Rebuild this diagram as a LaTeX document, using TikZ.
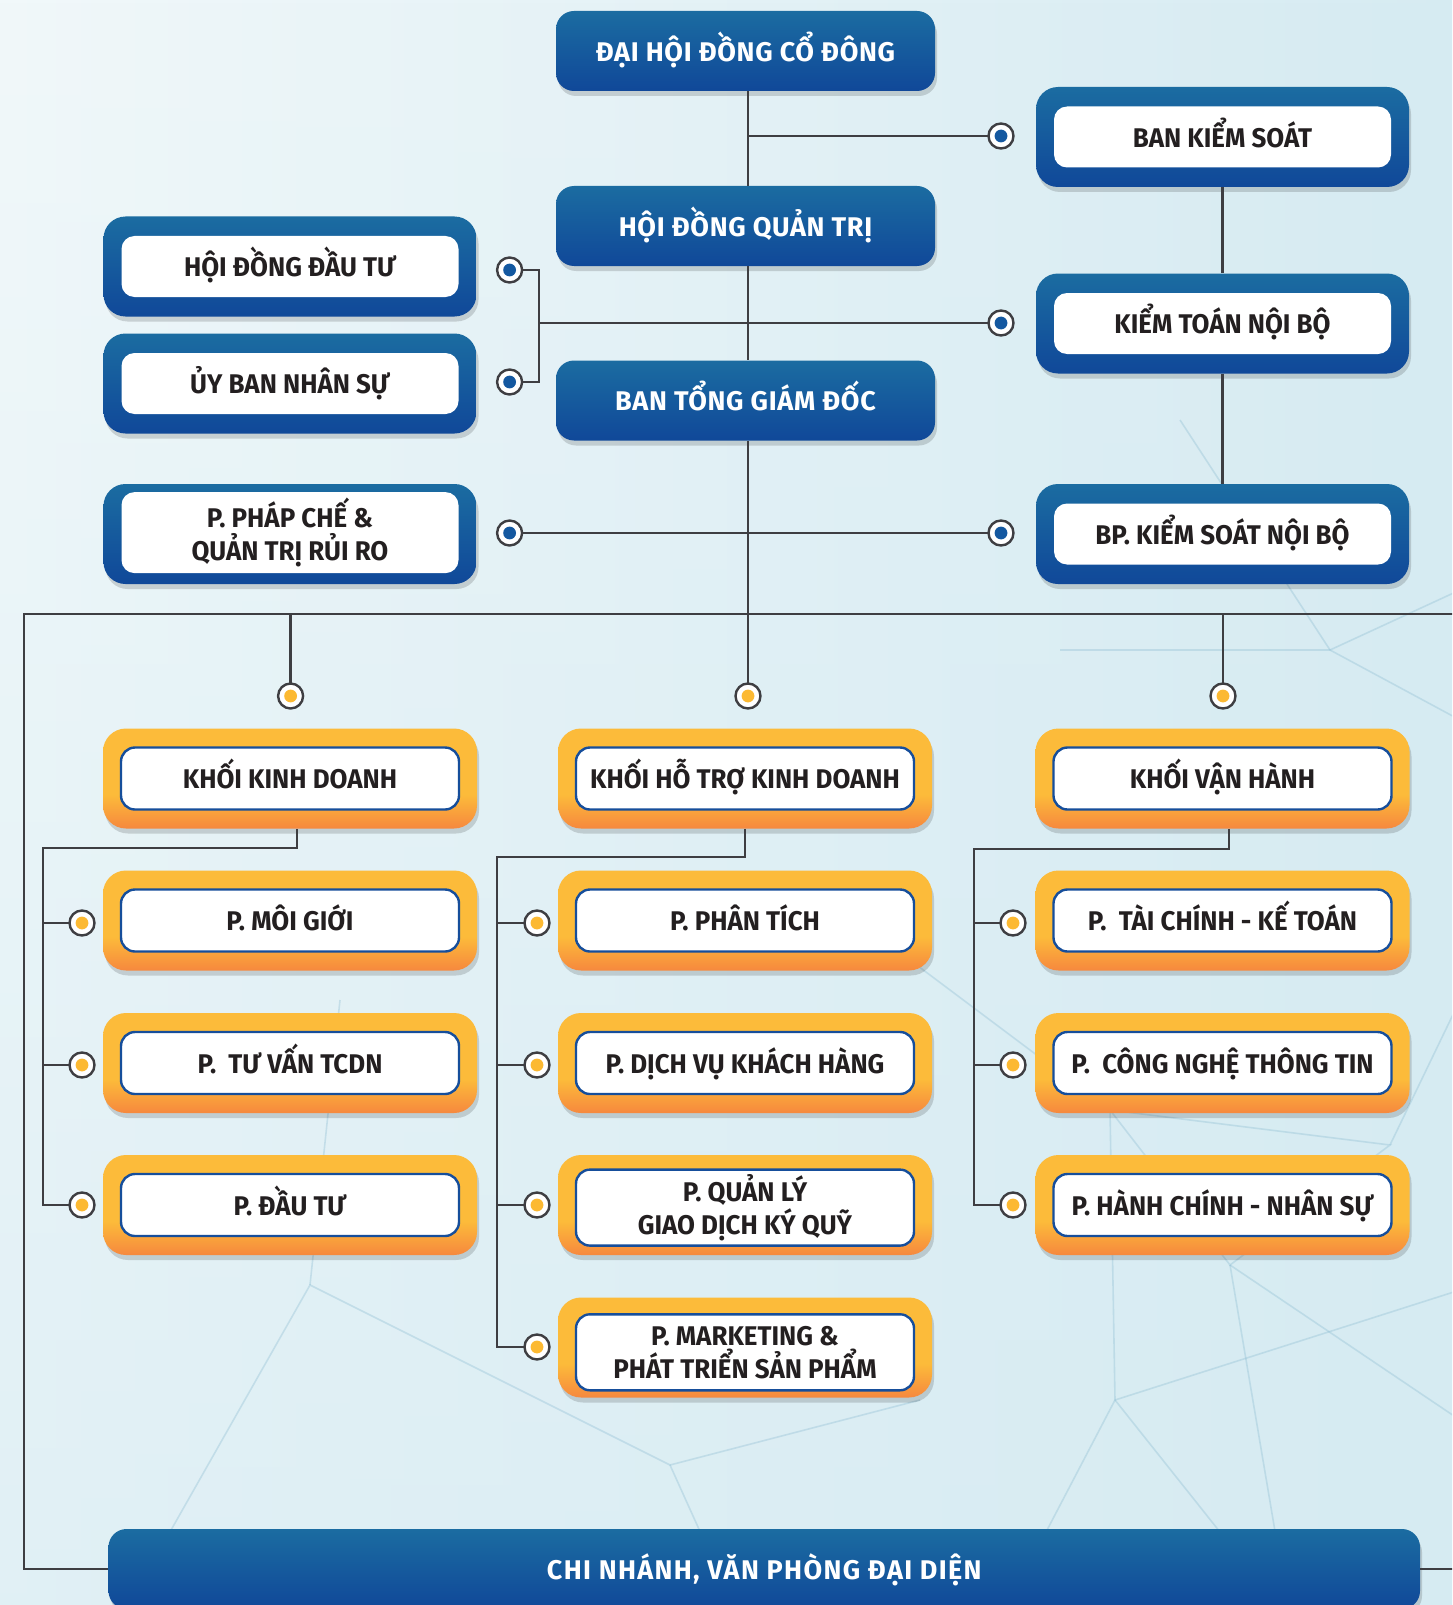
\documentclass[tikz,border=0pt]{standalone}
\usepackage{fontspec}
\newfontfamily\boxfont{Fira Sans}[FakeStretch=0.96]
\newfontfamily\whitefont{Fira Sans}[LetterSpace=2.5]
\newfontfamily\botfont{Fira Sans}[LetterSpace=5]
\usetikzlibrary{shadows,fadings}
\definecolor{bluetop}{RGB}{27,108,161}
\definecolor{bluebot}{RGB}{16,72,153}
\definecolor{orgtop}{RGB}{252,187,58}
\definecolor{orgbot}{RGB}{246,136,62}
\definecolor{inkdark}{RGB}{35,31,32}
\definecolor{linegray}{RGB}{62,62,66}
\definecolor{innerblue}{RGB}{22,78,155}
\definecolor{dotblue}{RGB}{20,88,160}
\definecolor{dotyel}{RGB}{252,185,50}
\definecolor{bgl}{RGB}{241,248,250}
\definecolor{bgr}{RGB}{214,235,242}
\definecolor{netline}{RGB}{140,188,210}
\pgfdeclareverticalshading{orgshade}{100bp}{color(0bp)=(orgbot); color(25bp)=(orgbot); color(42bp)=(orgtop); color(100bp)=(orgtop)}
\tikzset{
  shadowed/.style={drop shadow={shadow xshift=1pt,shadow yshift=-2.5pt,opacity=0.15,fill=black}},
  txt/.style={font=\boxfont\bfseries\fontsize{13.5}{16.5}\selectfont, align=center, inner sep=0pt, text height=10.3pt, text depth=0pt},
  twoline/.style={text height=, text depth=, yshift=#1},
  solidbox/.style={txt, font=\whitefont\bfseries\fontsize{13.5}{16.5}\selectfont, text=white, shade, top color=bluetop, bottom color=bluebot, rounded corners=9pt, minimum width=189.5pt, minimum height=40pt, shadowed},
  bframe/.style={shade, top color=bluetop, bottom color=bluebot, rounded corners=11pt, minimum width=186.5pt, minimum height=50pt, inner sep=0pt, shadowed},
  binner/.style={txt, text=inkdark, fill=white, rounded corners=6.5pt, minimum width=168.5pt, minimum height=30.5pt},
  oframe/.style={shade, shading=orgshade, rounded corners=11.5pt, minimum width=187pt, minimum height=50pt, inner sep=0pt, shadowed},
  oinner/.style={txt, text=inkdark, fill=white, draw=innerblue, line width=1.2pt, rounded corners=7pt, minimum width=169pt, minimum height=31pt},
  conn/.style={draw=linegray, line width=1.2pt},
  ring/.style={circle, draw=linegray, line width=1.2pt, fill=white, minimum size=12.5pt, inner sep=0pt, outer sep=0pt},
  bdot/.style={ring, path picture={\fill[dotblue] (path picture bounding box.center) circle (3.2pt);}},
  ydot/.style={ring, path picture={\fill[dotyel] (path picture bounding box.center) circle (3.2pt);}},
  net/.style={draw=netline, line width=0.8pt, opacity=0.35}
}
\begin{document}
\begin{tikzpicture}[x=0.5pt,y=-0.5pt]
\useasboundingbox (0,0) rectangle (1452,1605);
\clip (0,0) rectangle (1452,1605);
% background
\fill[left color=bgl, right color=bgr] (0,0) rectangle (1452,1605);
\fill[bgr, path fading=north, opacity=0.6] (0,0) rectangle (1452,1605);
% faint network lines
\draw[net] (1110,1110) -- (1390,1145) -- (1230,1265) -- cycle;
\draw[net] (1110,1110) -- (1115,1400) -- (1290,1620);
\draw[net] (1230,1265) -- (1290,1620);
\draw[net] (1115,1400) -- (1460,1290);
\draw[net] (1115,1400) -- (1000,1620);
\draw[net] (1390,1145) -- (1460,1000);
\draw[net] (910,960) -- (1110,1110);
\draw[net] (1330,650) -- (1460,590);
\draw[net] (1330,650) -- (1180,420);
\draw[net] (1330,650) -- (1460,720);
\draw[net] (1060,650) -- (1330,650);
\draw[net] (670,1465) -- (310,1285) -- (120,1620);
\draw[net] (670,1465) -- (740,1620);
\draw[net] (670,1465) -- (920,1400);
\draw[net] (310,1285) -- (340,1000);
\draw[net] (1230,1265) -- (1460,1420);
% top solid boxes
\node[solidbox] (dh) at (745.5,51) {ĐẠI HỘI ĐỒNG CỔ ĐÔNG};
\node[solidbox] (hd) at (745.5,226) {HỘI ĐỒNG QUẢN TRỊ};
\node[solidbox] (bt) at (745.5,400.5) {BAN TỔNG GIÁM ĐỐC};
% right framed boxes
\node[bframe] (bks) at (1222.5,137) {};
\node[binner] (bks-t) at (bks.center) {BAN KIỂM SOÁT};
\node[bframe] (ktnb) at (1222.5,323.5) {};
\node[binner] (ktnb-t) at (ktnb.center) {KIỂM TOÁN NỘI BỘ};
\node[bframe] (bpks) at (1222.5,534) {};
\node[binner] (bpks-t) at (bpks.center) {BP. KIỂM SOÁT NỘI BỘ};
% left framed boxes
\node[bframe] (hddt) at (290,266.5) {};
\node[binner] (hddt-t) at (hddt.center) {HỘI ĐỒNG ĐẦU TƯ};
\node[bframe] (ubns) at (290,383.5) {};
\node[binner] (ubns-t) at (ubns.center) {ỦY BAN NHÂN SỰ};
\node[bframe] (ppc) at (290,534) {};
\node[binner, twoline=0.7pt, minimum height=40.5pt] (ppc-t) at (ppc.center) {P. PHÁP CHẾ \&\\QUẢN TRỊ RỦI RO};
% orange column 1
\node[oframe] (kkd) at (290,778.5) {};
\node[oinner] (kkd-t) at (kkd.center) {KHỐI KINH DOANH};
\node[oframe] (mg) at (290,920.5) {};
\node[oinner] (mg-t) at (mg.center) {P. MÔI GIỚI};
\node[oframe] (tv) at (290,1063) {};
\node[oinner] (tv-t) at (tv.center) {P.\ \ TƯ VẤN TCDN};
\node[oframe] (dt) at (290,1205) {};
\node[oinner] (dt-t) at (dt.center) {P. ĐẦU TƯ};
% orange column 2
\node[oframe] (kht) at (745,778.5) {};
\node[oinner] (kht-t) at (kht.center) {KHỐI HỖ TRỢ KINH DOANH};
\node[oframe] (pt) at (745,920.5) {};
\node[oinner] (pt-t) at (pt.center) {P. PHÂN TÍCH};
\node[oframe] (dv) at (745,1063) {};
\node[oinner] (dv-t) at (dv.center) {P. DỊCH VỤ KHÁCH HÀNG};
\node[oframe] (ql) at (745,1205) {};
\node[oinner, twoline=-1.3pt, minimum height=38pt] (ql-t) at (ql.center) {P. QUẢN LÝ\\GIAO DỊCH KÝ QUỸ};
\node[oframe] (mk) at (745,1347.5) {};
\node[oinner, twoline=-2.4pt, minimum height=38pt] (mk-t) at (mk.center) {P. MARKETING \&\\PHÁT TRIỂN SẢN PHẨM};
% orange column 3
\node[oframe] (kvh) at (1222.5,778.5) {};
\node[oinner] (kvh-t) at (kvh.center) {KHỐI VẬN HÀNH};
\node[oframe] (tc) at (1222.5,920.5) {};
\node[oinner] (tc-t) at (tc.center) {P.\ \ TÀI CHÍNH - KẾ TOÁN};
\node[oframe] (cn) at (1222.5,1063) {};
\node[oinner] (cn-t) at (cn.center) {P.\ \ CÔNG NGHỆ THÔNG TIN};
\node[oframe] (hc) at (1222.5,1205) {};
\node[oinner] (hc-t) at (hc.center) {P. HÀNH CHÍNH - NHÂN SỰ};
% bottom box
\node[solidbox, font=\botfont\bfseries\fontsize{13.5}{16.5}\selectfont, minimum width=655.75pt] (bot) at (764.25,1569) {CHI NHÁNH, VĂN PHÒNG ĐẠI DIỆN};
% junction coordinates
\coordinate (cx) at (748,0);
\coordinate (bx) at (539,0);
\coordinate (busL) at (24,614);
\coordinate (busR) at (1470,614);
\coordinate (botR) at (1470,1569);
\coordinate (k1) at (297,848);
\coordinate (k2) at (745,857);
\coordinate (k3) at (1229,849);
\coordinate (v1) at (43,0);
\coordinate (v2) at (497,0);
\coordinate (v3) at (974,0);
% blue ring dots
\node[bdot] (c-bks) at (1001,136) {};
\node[bdot] (c-ktnb) at (1001,323) {};
\node[bdot] (c-bpks) at (1001,533) {};
\node[bdot] (c-hddt) at (509.6,270) {};
\node[bdot] (c-ubns) at (509.6,382) {};
\node[bdot] (c-ppc) at (509.6,533) {};
% yellow ring dots
\node[ydot] (y1) at (290.6,696) {};
\node[ydot] (y2) at (748,696) {};
\node[ydot] (y3) at (1223,696) {};
\node[ydot] (c-mg) at (82,923) {};
\node[ydot] (c-tv) at (82,1065) {};
\node[ydot] (c-dt) at (82,1205) {};
\node[ydot] (c-pt) at (537,923) {};
\node[ydot] (c-dv) at (537,1065) {};
\node[ydot] (c-ql) at (537,1205) {};
\node[ydot] (c-mk) at (537,1347) {};
\node[ydot] (c-tc) at (1013,923) {};
\node[ydot] (c-cn) at (1013,1065) {};
\node[ydot] (c-hc) at (1013,1205) {};
% connectors: top trunk
\draw[conn] (dh.south -| cx) -- (hd.north -| cx);
\draw[conn] (hd.south -| cx) -- (bt.north -| cx);
\draw[conn] (bt.south -| cx) -- (y2.north);
\draw[conn] (c-bks.west -| cx) -- (c-bks.west);
\draw[conn] (c-hddt.east) -| (bx |- c-ubns.east) -- (c-ubns.east);
\draw[conn] (c-ktnb.west -| bx) -- (c-ktnb.west);
\draw[conn] (c-ppc.east) -- (c-bpks.west);
\draw[conn] (bks.south) -- (ktnb.north);
\draw[conn] (ktnb.south) -- (bpks.north);
% bus
\draw[conn] (busR) -- (busL) |- (bot.west);
\draw[conn] (bot.east) -- (botR);
\draw[conn] (y1 |- busL) -- (y1.north);
\draw[conn] (y3 |- busL) -- (y3.north);
% column 1
\draw[conn] (kkd.south -| k1) -- (k1) -| (v1 |- c-dt.west) -- (c-dt.west);
\draw[conn] (c-mg.west -| v1) -- (c-mg.west);
\draw[conn] (c-tv.west -| v1) -- (c-tv.west);
% column 2
\draw[conn] (kht.south -| k2) -- (k2) -| (v2 |- c-mk.west) -- (c-mk.west);
\draw[conn] (c-pt.west -| v2) -- (c-pt.west);
\draw[conn] (c-dv.west -| v2) -- (c-dv.west);
\draw[conn] (c-ql.west -| v2) -- (c-ql.west);
% column 3
\draw[conn] (kvh.south -| k3) -- (k3) -| (v3 |- c-hc.west) -- (c-hc.west);
\draw[conn] (c-tc.west -| v3) -- (c-tc.west);
\draw[conn] (c-cn.west -| v3) -- (c-cn.west);
\end{tikzpicture}
\end{document}
